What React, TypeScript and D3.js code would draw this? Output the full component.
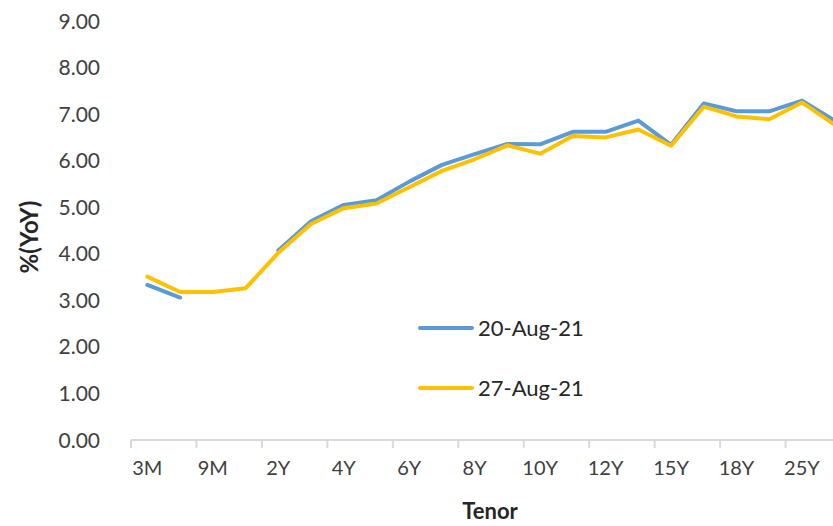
import React, { useEffect, useRef } from 'react';
import * as d3 from 'd3';

const tenors = ['3M', '6M', '9M', '1Y', '2Y', '3Y', '4Y', '5Y', '6Y', '7Y', '8Y', '9Y', '10Y', '11Y', '12Y', '14Y', '15Y', '16Y', '18Y', '20Y', '25Y', '30Y'];
const labelledTenors = ['3M', '9M', '2Y', '4Y', '6Y', '8Y', '10Y', '12Y', '15Y', '18Y', '25Y'];
const aug20: (number | null)[] = [3.33, 3.06, null, null, 4.07, 4.70, 5.05, 5.15, 5.55, 5.91, 6.14, 6.36, 6.35, 6.62, 6.62, 6.86, 6.34, 7.23, 7.06, 7.06, 7.29, 6.86];
const aug27: (number | null)[] = [3.51, 3.18, 3.18, 3.26, 4.02, 4.64, 4.98, 5.08, 5.43, 5.78, 6.03, 6.33, 6.15, 6.53, 6.50, 6.67, 6.32, 7.16, 6.95, 6.89, 7.25, 6.77];
const yTicks = [0, 1, 2, 3, 4, 5, 6, 7, 8, 9];

const series = [
	{ name: '20-Aug-21', values: aug20, color: '#5B9BD5' },
	{ name: '27-Aug-21', values: aug27, color: '#FFC000' }
];

const App = () => {
	const ref = useRef<SVGSVGElement>(null);

	useEffect(() => {
		const svg = d3.select(ref.current);
		svg.selectAll('*').remove();

		const font = 'Lato, "Noto Sans", sans-serif';
		const left = 131;
		const step = 32.73;
		const xScale = d3
			.scaleBand()
			.domain(tenors)
			.range([left, left + step * tenors.length])
			.padding(0);
		const yScale = d3.scaleLinear().domain([0, 9]).range([440, 21]);
		const cx = (t: string) => (xScale(t) as number) + xScale.bandwidth() / 2;

		// x axis line and ticks (every second category boundary)
		const xAxis = svg.append('g');
		xAxis
			.append('line')
			.attr('x1', left)
			.attr('x2', left + step * tenors.length)
			.attr('y1', yScale(0))
			.attr('y2', yScale(0))
			.attr('stroke', '#d9d9d9')
			.attr('stroke-width', 2);
		xAxis
			.selectAll('.tick')
			.data(tenors.filter((_, i) => i % 2 === 0))
			.enter()
			.append('line')
			.attr('x1', t => xScale(t) as number)
			.attr('x2', t => xScale(t) as number)
			.attr('y1', yScale(0))
			.attr('y2', yScale(0) + 8)
			.attr('stroke', '#d9d9d9')
			.attr('stroke-width', 2);
		xAxis
			.selectAll('.label')
			.data(labelledTenors)
			.enter()
			.append('text')
			.attr('x', t => cx(t))
			.attr('y', 475)
			.attr('text-anchor', 'middle')
			.style('font-family', font)
			.style('font-size', '20px')
			.style('fill', '#404040')
			.text(t => t);

		// y labels
		svg
			.append('g')
			.selectAll('text')
			.data(yTicks)
			.enter()
			.append('text')
			.attr('x', 100)
			.attr('y', v => yScale(v))
			.attr('dy', '0.36em')
			.attr('text-anchor', 'end')
			.style('font-family', font)
			.style('font-size', '21px')
			.style('fill', '#404040')
			.text(v => v.toFixed(2));

		const line = d3
			.line<number | null>()
			.defined(v => v != null)
			.x((_, i) => cx(tenors[i]))
			.y(v => yScale(v as number));

		series.forEach(s => {
			svg
				.append('path')
				.datum(s.values)
				.attr('d', line)
				.attr('fill', 'none')
				.attr('stroke', s.color)
				.attr('stroke-width', 4)
				.attr('stroke-linejoin', 'round')
				.attr('stroke-linecap', 'round');
		});

		// legend
		const legend = svg
			.append('g')
			.selectAll('g')
			.data(series)
			.enter()
			.append('g')
			.attr('transform', (_, i) => `translate(418, ${328 + i * 60})`);
		legend
			.append('line')
			.attr('x1', 2)
			.attr('x2', 54)
			.attr('stroke', s => s.color)
			.attr('stroke-width', 4)
			.attr('stroke-linecap', 'round');
		legend
			.append('text')
			.attr('x', 60)
			.attr('dy', '0.36em')
			.style('font-family', font)
			.style('font-size', '22px')
			.style('fill', '#262626')
			.text(s => s.name);

		svg
			.append('text')
			.attr('x', 490)
			.attr('y', 519)
			.attr('text-anchor', 'middle')
			.style('font-family', font)
			.style('font-size', '22px')
			.style('font-weight', 'bold')
			.style('fill', '#262626')
			.text('Tenor');

		svg
			.append('text')
			.attr('transform', 'translate(38, 237) rotate(-90)')
			.attr('text-anchor', 'middle')
			.style('font-family', font)
			.style('font-size', '24px')
			.style('font-weight', 'bold')
			.style('fill', '#262626')
			.text('%(YoY)');
	}, []);

	return (
		<svg
			ref={ref}
			width={833}
			height={526}
			style={{ position: 'absolute', left: 0, top: 0, background: '#fff' }}
		/>
	);
};

export default App;
